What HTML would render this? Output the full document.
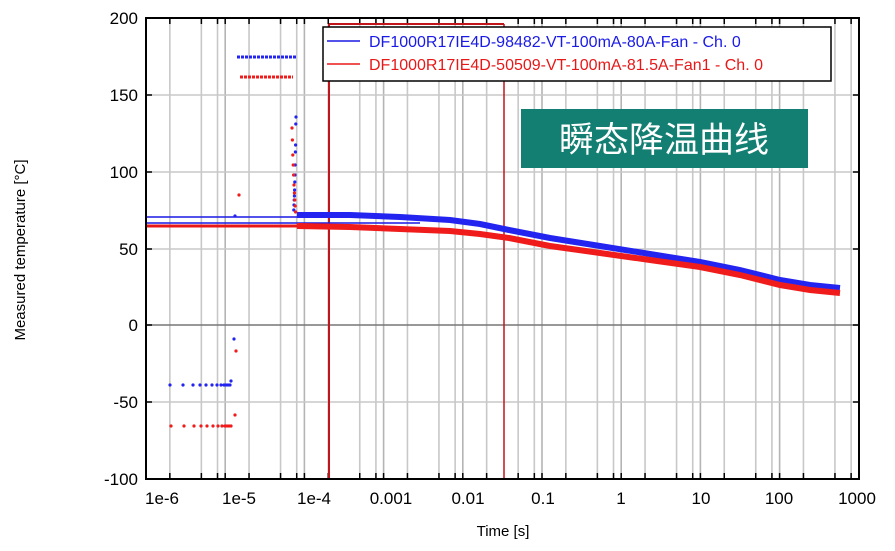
<!DOCTYPE html>
<html><head><meta charset="utf-8"><style>
html,body{margin:0;padding:0;background:#fff;width:895px;height:551px;overflow:hidden}
svg{display:block;font-family:"Liberation Sans",Arial,sans-serif}
</style></head><body>
<svg width="895" height="551" viewBox="0 0 895 551" xmlns="http://www.w3.org/2000/svg">
<rect width="895" height="551" fill="#fff"/>
<g id="grid" stroke="#c8c8c8" stroke-width="1.6"></g>
<g stroke="#c8c8c8" stroke-width="1.6">
<line x1="146" y1="95" x2="859" y2="95"/><line x1="146" y1="172" x2="859" y2="172"/>
<line x1="146" y1="249" x2="859" y2="249"/><line x1="146" y1="325" x2="859" y2="325" stroke="#777"/>
<line x1="146" y1="402" x2="859" y2="402"/>
</g>
<g id="ticks" stroke="#000" stroke-width="1.5"></g>
<g stroke="#c0151b" stroke-width="2">
<line x1="329" y1="24" x2="329" y2="479"/><line x1="504" y1="24" x2="504" y2="479" stroke-width="1.5"/>
<line x1="329" y1="24" x2="504" y2="24"/>
</g>
<line x1="146" y1="217" x2="300" y2="217" stroke="#1a1ae6" stroke-width="1.5"/>
<line x1="146" y1="223" x2="420" y2="223" stroke="#1a1ae6" stroke-width="1.5"/>
<line x1="146" y1="226" x2="300" y2="226" stroke="#e81818" stroke-width="3"/>
<polyline fill="none" stroke="#2424f0" stroke-width="6" points="297,215 350,215 400,217 450,220 480,224 509,230 550,238 600,246 650,254 700,262 740,270 780,280 810,285 840,288"/>
<polyline fill="none" stroke="#f01c1c" stroke-width="6" points="297,226 350,227 400,229 450,231 480,234 509,238 550,246 600,253 650,260 700,267 740,275 780,285 810,290 840,293"/>
<line x1="237" y1="57" x2="297" y2="57" stroke="#2424f0" stroke-width="3" stroke-dasharray="3,1"/>
<line x1="240" y1="77" x2="293" y2="77" stroke="#f01c1c" stroke-width="3" stroke-dasharray="3,1"/>
<g fill="#2424f0" id="bd"></g><g fill="#f01c1c" id="rd"></g>
<rect x="146" y="18" width="713" height="461" fill="none" stroke="#000" stroke-width="2"/>
<g font-size="17" text-anchor="end" fill="#000">
<text x="138" y="24">200</text><text x="138" y="101">150</text><text x="138" y="178">100</text>
<text x="138" y="255">50</text><text x="138" y="331">0</text><text x="138" y="408">-50</text><text x="138" y="485">-100</text>
</g>
<g font-size="17" text-anchor="middle" fill="#000">
<text x="162" y="504">1e-6</text><text x="239" y="504">1e-5</text><text x="314" y="504">1e-4</text>
<text x="391" y="504">0.001</text><text x="468" y="504">0.01</text><text x="543" y="504">0.1</text>
<text x="621" y="504">1</text><text x="701" y="504">10</text><text x="779" y="504">100</text><text x="857" y="504">1000</text>
<text x="503" y="536" font-size="15">Time [s]</text>
<text transform="translate(25,250) rotate(-90)" font-size="15">Measured temperature [°C]</text>
</g>
<rect x="323" y="27" width="508" height="54" fill="#fff" stroke="#000" stroke-width="1.5"/>
<line x1="327" y1="41" x2="360" y2="41" stroke="#1a1ae6" stroke-width="1.5"/>
<line x1="327" y1="64" x2="360" y2="64" stroke="#e81818" stroke-width="1.5"/>
<text x="369" y="47" font-size="16" fill="#1a1ae6">DF1000R17IE4D-98482-VT-100mA-80A-Fan - Ch. 0</text>
<text x="369" y="70" font-size="16" fill="#e81818">DF1000R17IE4D-50509-VT-100mA-81.5A-Fan1 - Ch. 0</text>
<rect x="521" y="109" width="287" height="59" fill="#137f72"/>
<text x="664" y="152" font-size="35" fill="#fff" text-anchor="middle" font-family="'Noto Sans CJK SC',sans-serif">瞬态降温曲线</text>
</svg>
<script>
(function(){
var ns="http://www.w3.org/2000/svg",g=document.getElementById('grid'),t=document.getElementById('ticks');
var x0=146,d=79.2,m=[1,2,5,8];
for(var k=0;k<9;k++){m.forEach(function(v){var x=x0+(k+Math.log10(v))*d;if(x>859)return;
var l=document.createElementNS(ns,'line');l.setAttribute('x1',x);l.setAttribute('x2',x);l.setAttribute('y1',18);l.setAttribute('y2',479);if(v==1)l.setAttribute('stroke','#b4b4b4');g.appendChild(l);
[[18,24],[473,479]].forEach(function(p){var q=document.createElementNS(ns,'line');q.setAttribute('x1',x);q.setAttribute('x2',x);q.setAttribute('y1',p[0]);q.setAttribute('y2',p[1]);t.appendChild(q);});});}
[95,172,249,325,402].forEach(function(y){[[146,152],[853,859]].forEach(function(p){var q=document.createElementNS(ns,'line');q.setAttribute('x1',p[0]);q.setAttribute('x2',p[1]);q.setAttribute('y1',y);q.setAttribute('y2',y);t.appendChild(q);});});
function dots(id,pts){var e=document.getElementById(id);pts.forEach(function(p){var c=document.createElementNS(ns,'circle');c.setAttribute('cx',p[0]);c.setAttribute('cy',p[1]);c.setAttribute('r',1.6);e.appendChild(c);});}
var b=[],r=[];
[170,183,193,200,206,212,217,221,224,226,228,230].forEach(function(x){b.push([x,385]);r.push([x+1,426]);});
b.push([231,381],[234,339],[235,216]);r.push([236,351],[235,415],[239,195]);
[117,124,145,152,165,175,182,190,196,200,205,210].forEach(function(y,i){b.push([296-i*0.2,y]);});
[128,140,155,165,175,185,193,200,206,212].forEach(function(y,i){r.push([292+i*0.4,y]);});
dots('bd',b);dots('rd',r);
})();
</script>
</body></html>
